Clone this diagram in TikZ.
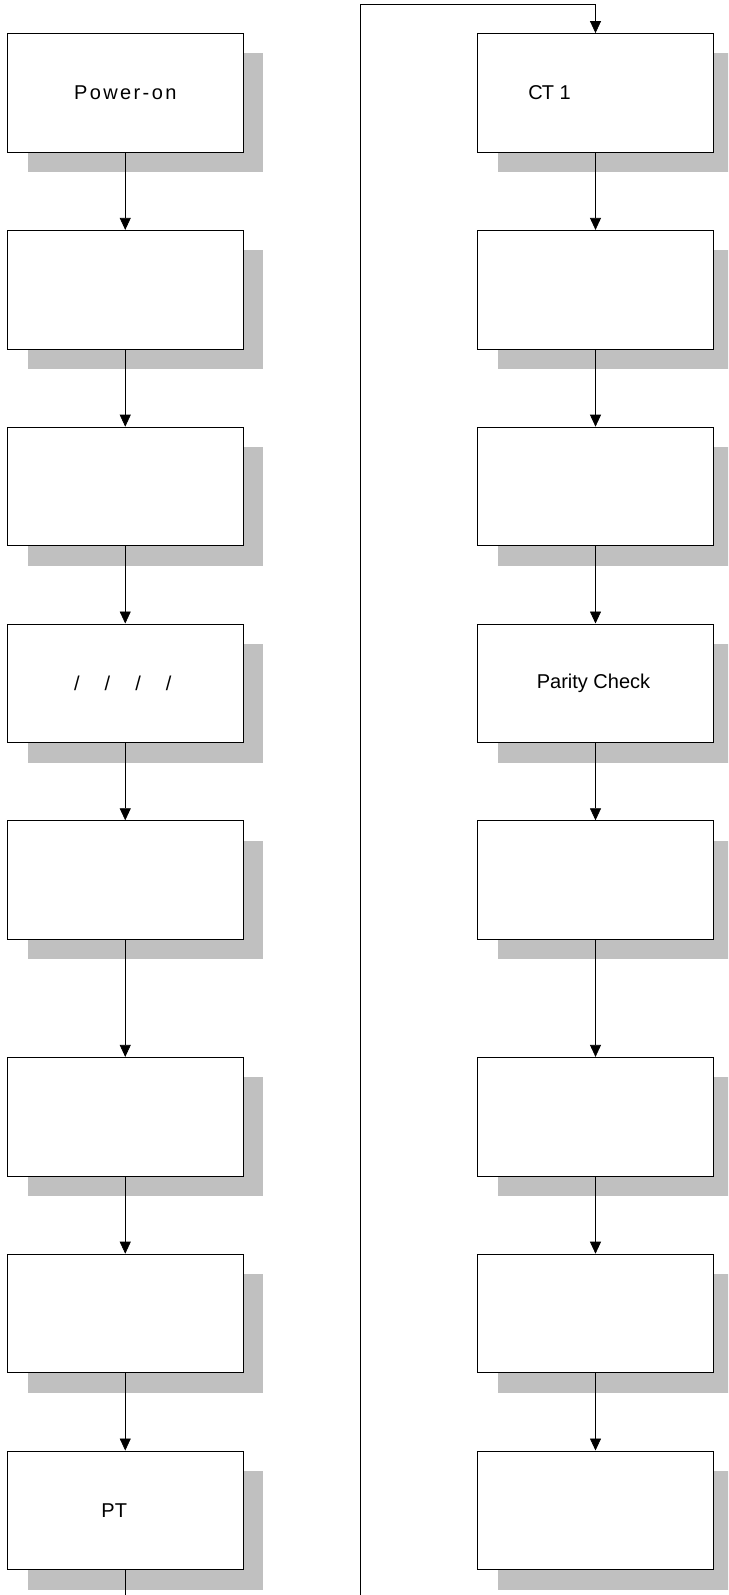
\documentclass[tikz,border=0pt]{standalone}
\usepackage{fontspec}
\setmainfont{Liberation Sans}
\usetikzlibrary{arrows.meta,shadows}
\definecolor{shadowgray}{RGB}{192,192,192}
\begin{document}
\begin{tikzpicture}[x=1pt,y=-1pt,
  stepbox/.style={draw=black, line width=0.8pt, fill=white,
    minimum width=235.5pt, minimum height=118.6pt, inner sep=0pt,
    drop shadow={shadow xshift=20pt, shadow yshift=-20pt, fill=shadowgray, opacity=1},
    font=\fontsize{20}{24}\selectfont},
  link/.style={draw=black, line width=0.7pt, -{Triangle[width=11pt,length=12pt]}},
  plain/.style={draw=black, line width=0.7pt},
]
\useasboundingbox (0,0) rectangle (728,1595);
\clip (0,0) rectangle (728,1595);
% left column
\node[stepbox] (L1) at (125.25,92.8)  {\addfontfeature{LetterSpace=12}Power-on};
\node[stepbox] (L2) at (125.25,289.6) {};
\node[stepbox] (L3) at (125.25,486.4) {};
\node[stepbox] (L4) at (125.25,683.2) {/\kern25pt/\kern25pt/\kern25pt/\kern5pt};
\node[stepbox] (L5) at (125.25,880.0) {};
\node[stepbox] (L6) at (125.25,1116.6) {};
\node[stepbox] (L7) at (125.25,1313.4) {};
\node[stepbox] (L8) at (125.25,1510.2) {PT\kern22pt};
% right column
\node[stepbox] (R1) at (595.5,92.8)  {C\kern-1ptT 1\kern92pt};
\node[stepbox] (R2) at (595.5,289.6) {};
\node[stepbox] (R3) at (595.5,486.4) {};
\node[stepbox] (R4) at (595.5,683.2) {Parity Check\kern4pt};
\node[stepbox] (R5) at (595.5,880.0) {};
\node[stepbox] (R6) at (595.5,1116.6) {};
\node[stepbox] (R7) at (595.5,1313.4) {};
\node[stepbox] (R8) at (595.5,1510.2) {};
% connectors
\draw[link] (L1) -- (L2);
\draw[link] (L2) -- (L3);
\draw[link] (L3) -- (L4);
\draw[link] (L4) -- (L5);
\draw[link] (L5) -- (L6);
\draw[link] (L6) -- (L7);
\draw[link] (L7) -- (L8);
\draw[link] (R1) -- (R2);
\draw[link] (R2) -- (R3);
\draw[link] (R3) -- (R4);
\draw[link] (R4) -- (R5);
\draw[link] (R5) -- (R6);
\draw[link] (R6) -- (R7);
\draw[link] (R7) -- (R8);
\coordinate (lend) at (125.25,1600);
\draw[plain] (L8) -- (lend);
\coordinate (lstart) at (360.7,1600);
\coordinate (ltop) at (360.7,4);
\draw[link] (lstart) -- (ltop) -| (R1);
\end{tikzpicture}
\end{document}
